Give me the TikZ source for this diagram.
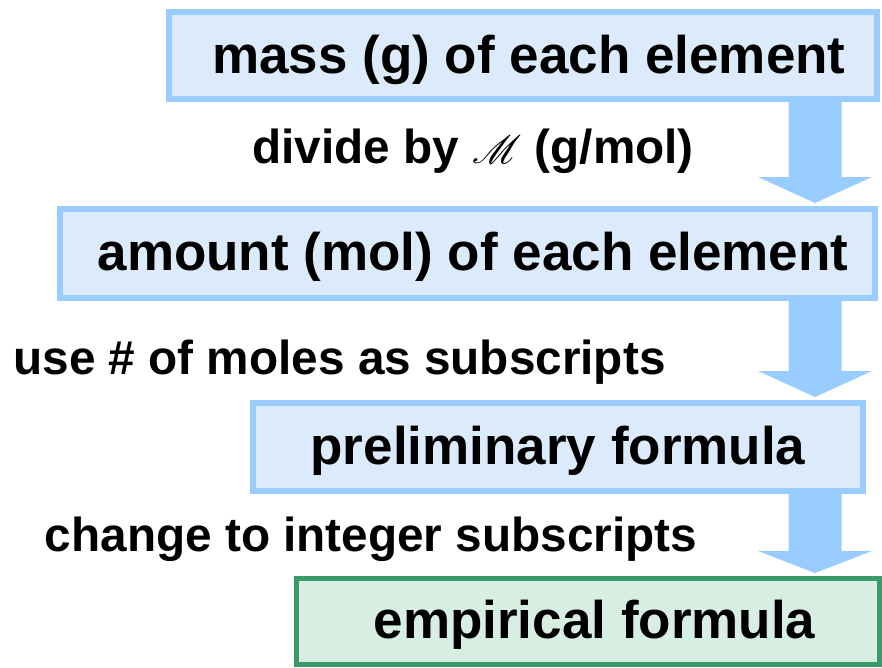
\documentclass[tikz,border=0pt]{standalone}
\usepackage{fontspec}
\setmainfont{Liberation Sans}
\usepackage{mathrsfs}
\definecolor{bborder}{HTML}{99CCFF}
\definecolor{bfill}{HTML}{DCEBFB}
\definecolor{gborder}{HTML}{3A9A6A}
\definecolor{gfill}{HTML}{D8EEE3}
\definecolor{arrowc}{HTML}{99CCFF}
\tikzset{
  bluebox/.style={draw=bborder, fill=bfill, line width=6pt},
  greenbox/.style={draw=gborder, fill=gfill, line width=5pt},
  boxtext/.style={anchor=base, inner sep=0pt, font=\fontsize{53}{60}\selectfont\bfseries},
  labeltext/.style={anchor=base, inner sep=0pt, font=\fontsize{47.7}{54}\selectfont\bfseries},
  bigarrow/.style={fill=arrowc, draw=none}
}
\newcommand{\scriptM}{\scalebox{1.6}{\fontsize{24.88}{30}\selectfont$\mathscr{M}$}}
\begin{document}
\begin{tikzpicture}[x=1pt, y=-1pt]
\useasboundingbox (0,0) rectangle (882,667);
% boxes
\draw[bluebox] (169,12) rectangle (877,99);
\draw[bluebox] (60,209) rectangle (875,298);
\draw[bluebox] (253,403) rectangle (863,491);
\draw[greenbox] (296.5,578.5) rectangle (879.5,664.5);
% arrows
\coordinate (a1s) at (815,102); \coordinate (a1t) at (815,203);
\coordinate (a2s) at (815,301); \coordinate (a2t) at (815,397);
\coordinate (a3s) at (815,494); \coordinate (a3t) at (815,573);
\fill[bigarrow] ([xshift=-26.5pt]a1s) -- ([xshift=26.5pt]a1s) -- ([xshift=26.5pt,yshift=26pt]a1t) -- ([xshift=57pt,yshift=26pt]a1t) -- (a1t) -- ([xshift=-57pt,yshift=26pt]a1t) -- ([xshift=-26.5pt,yshift=26pt]a1t) -- cycle;
\fill[bigarrow] ([xshift=-26.5pt]a2s) -- ([xshift=26.5pt]a2s) -- ([xshift=26.5pt,yshift=26pt]a2t) -- ([xshift=57pt,yshift=26pt]a2t) -- (a2t) -- ([xshift=-57pt,yshift=26pt]a2t) -- ([xshift=-26.5pt,yshift=26pt]a2t) -- cycle;
\fill[bigarrow] ([xshift=-26.5pt]a3s) -- ([xshift=26.5pt]a3s) -- ([xshift=26.5pt,yshift=22pt]a3t) -- ([xshift=57pt,yshift=22pt]a3t) -- (a3t) -- ([xshift=-57pt,yshift=22pt]a3t) -- ([xshift=-26.5pt,yshift=22pt]a3t) -- cycle;
% texts
\node[boxtext] (t1) at (529,73) {mass (g) of each element};
\node[boxtext] (t2) at (473,270) {amount (mol) of each element};
\node[boxtext] (t3) at (558,464) {preliminary formula};
\node[boxtext] (t4) at (594.5,638) {empirical formula};
\node[labeltext] (l1) at (473,163) {divide by \scriptM{} (g/mol)};
\node[labeltext] (l2) at (339.5,374) {use \# of moles as subscripts};
\node[labeltext] (l3) at (371,551) {change to integer subscripts};
\end{tikzpicture}
\end{document}
